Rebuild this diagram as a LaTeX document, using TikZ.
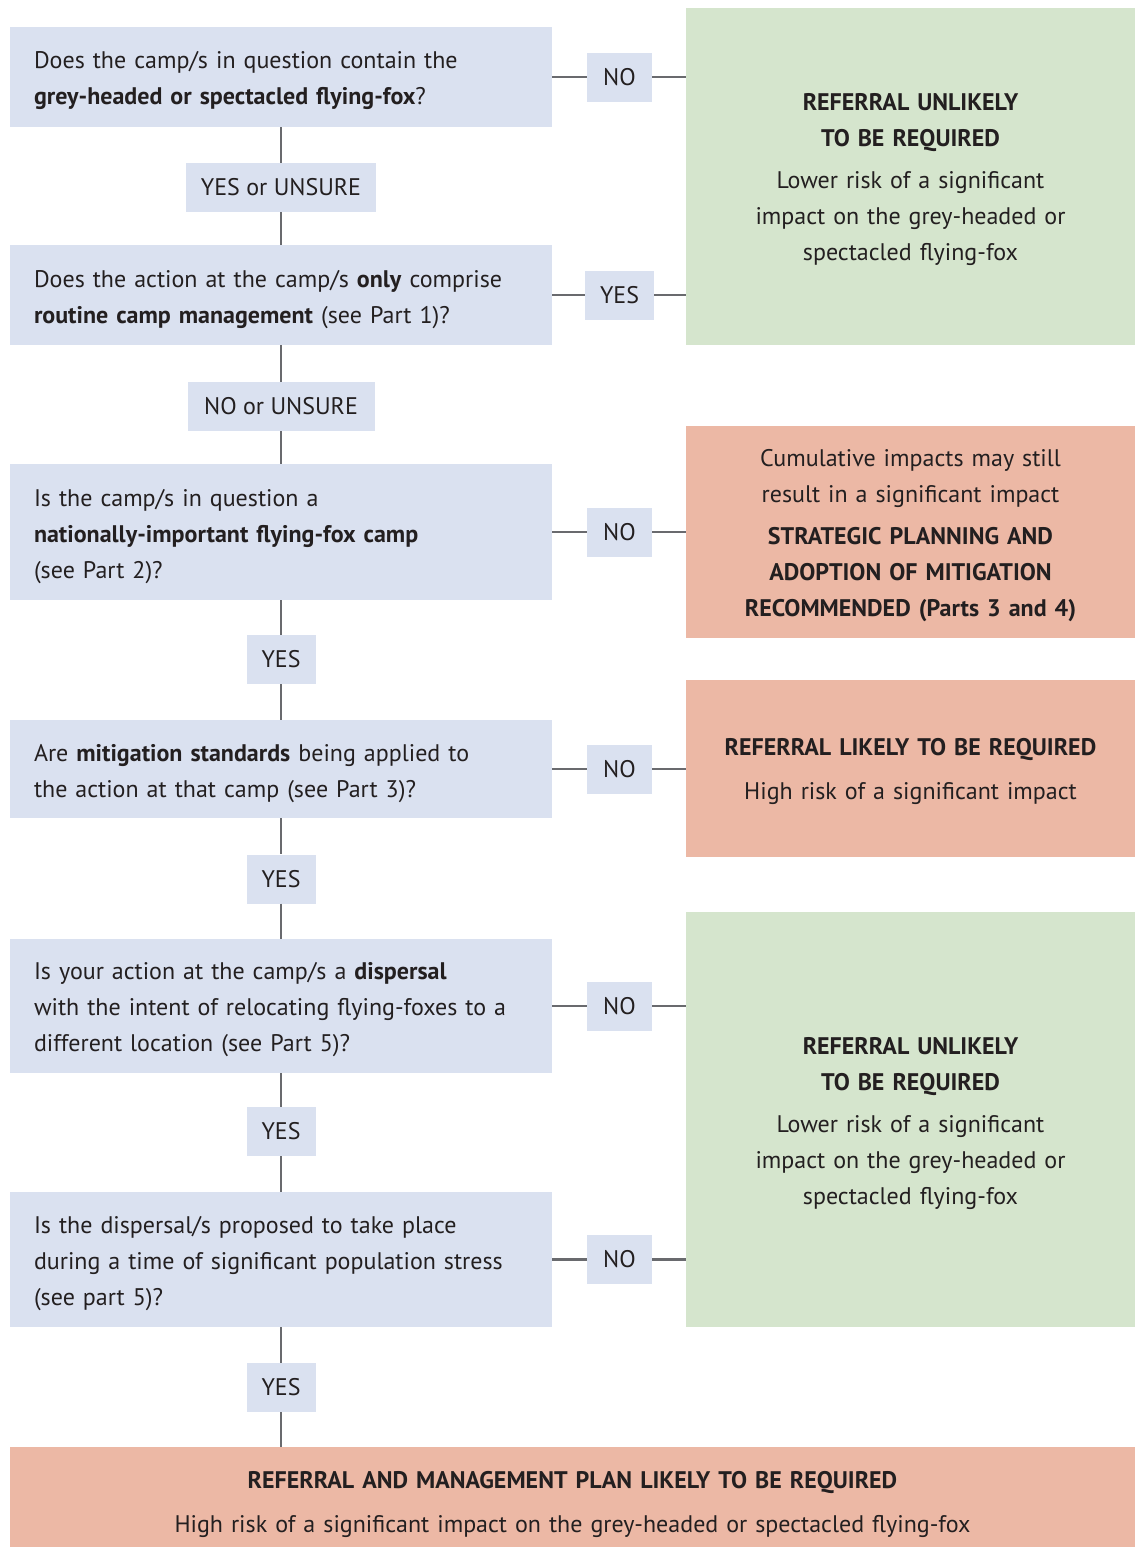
\documentclass[tikz,border=0pt]{standalone}
\usepackage{fontspec}
\setmainfont{PT Sans}
\definecolor{qblue}{RGB}{218,225,240}
\definecolor{gfill}{RGB}{213,229,205}
\definecolor{sfill}{RGB}{236,184,165}
\definecolor{txt}{RGB}{35,31,32}
\definecolor{lin}{RGB}{105,106,110}
\newcommand\lowr[1]{\rule{0pt}{#1pt}}
\begin{document}
\begin{tikzpicture}[x=1pt,y=-1pt,
  every node/.style={text=txt},
  body/.style={font=\fontsize{24}{36}\selectfont},
  qbox/.style={body, fill=qblue, text width=494pt, align=left, inner xsep=24pt, inner ysep=0pt, minimum width=542pt},
  lab/.style={body, fill=qblue, inner sep=0pt, minimum height=49pt},
  res/.style={body, text width=440pt, align=center, inner sep=0pt, minimum width=449pt},
  conn/.style={draw=lin, line width=2.5pt}]
\useasboundingbox (0,0) rectangle (1137,1547);
\fill[white] (0,0) rectangle (1137,1547);

% question boxes
\node[qbox, minimum height=100pt] (q1) at (281,77) {\lowr{24}Does the camp/s in question contain the\\\textbf{grey-headed or spectacled flying-fox}?};
\node[qbox, minimum height=100pt] (q2) at (281,295) {\lowr{27}Does the action at the camp/s \textbf{only} comprise\\\textbf{routine camp management} (see Part 1)?};
\node[qbox, minimum height=136pt] (q3) at (281,532) {\lowr{26}Is the camp/s in question a\\\textbf{nationally-important flying-fox camp}\\(see Part 2)?};
\node[qbox, minimum height=98pt] (q4) at (281,769) {\lowr{26}Are \textbf{mitigation standards} being applied to\\the action at that camp (see Part 3)?};
\node[qbox, minimum height=134pt] (q5) at (281,1006) {\lowr{25}Is your action at the camp/s a \textbf{dispersal}\\with the intent of relocating flying-foxes to a\\different location (see Part 5)?};
\node[qbox, minimum height=135pt] (q6) at (281,1259.5) {\lowr{26}Is the dispersal/s proposed to take place\\during a time of significant population stress\\(see part 5)?};

% result boxes
\node[res, fill=gfill, minimum height=337pt] (g1) at (910.5,176.5) {\lowr{24}\textbf{REFERRAL UNLIKELY}\\\textbf{TO BE REQUIRED}\\[6pt]Lower risk of a significant\\impact on the grey-headed or\\spectacled flying-fox};
\node[res, fill=sfill, minimum height=212pt] (s1) at (910.5,532) {\lowr{25}Cumulative impacts may still\\result in a significant impact\\[6pt]\textbf{STRATEGIC PLANNING AND}\\\textbf{ADOPTION OF MITIGATION}\\\textbf{RECOMMENDED (Parts 3 and 4)}};
\node[res, fill=sfill, minimum height=177pt] (s2) at (910.5,768.5) {\lowr{24}\textbf{REFERRAL LIKELY TO BE REQUIRED}\\[8pt]High risk of a significant impact};
\node[res, fill=gfill, minimum height=415pt] (g2) at (910.5,1119.5) {\lowr{26}\textbf{REFERRAL UNLIKELY}\\\textbf{TO BE REQUIRED}\\[6pt]Lower risk of a significant\\impact on the grey-headed or\\spectacled flying-fox};
\node[body, fill=sfill, text width=1100pt, align=center, inner sep=0pt, minimum width=1125pt, minimum height=100pt] (fin) at (572.5,1497) {\lowr{32}\textbf{REFERRAL AND MANAGEMENT PLAN LIKELY TO BE REQUIRED}\\[8pt]High risk of a significant impact on the grey-headed or spectacled flying-fox};

% side labels
\node[lab, minimum width=65pt] (n1) at (619.5,77) {NO};
\node[lab, minimum width=69pt] (y2) at (619.5,295) {YES};
\node[lab, minimum width=65pt] (n3) at (619.5,532) {NO};
\node[lab, minimum width=65pt] (n4) at (619.5,769) {NO};
\node[lab, minimum width=65pt] (n5) at (619.5,1006) {NO};
\node[lab, minimum width=65pt] (n6) at (619.5,1259.5) {NO};

% vertical labels
\node[lab, minimum width=190pt] (v1) at (281,187.5) {YES or UNSURE};
\node[lab, minimum width=187pt] (v2) at (281,406.5) {NO or UNSURE};
\node[lab, minimum width=69pt] (v3) at (281,659.5) {YES};
\node[lab, minimum width=69pt] (v4) at (281,879) {YES};
\node[lab, minimum width=69pt] (v5) at (281,1131.5) {YES};
\node[lab, minimum width=69pt] (v6) at (281,1387.5) {YES};

% horizontal connectors
\draw[conn] (q1.east) -- (n1.west); \draw[conn] (n1.east) -- (n1.east -| g1.west);
\draw[conn] (q2.east) -- (y2.west); \draw[conn] (y2.east) -- (y2.east -| g1.west);
\draw[conn] (q3.east) -- (n3.west); \draw[conn] (n3.east) -- (n3.east -| s1.west);
\draw[conn] (q4.east) -- (n4.west); \draw[conn] (n4.east) -- (n4.east -| s2.west);
\draw[conn] (q5.east) -- (n5.west); \draw[conn] (n5.east) -- (n5.east -| g2.west);
\draw[conn] (q6.east) -- (n6.west); \draw[conn] (n6.east) -- (n6.east -| g2.west);

% vertical connectors
\draw[conn] (q1.south) -- (v1.north); \draw[conn] (v1.south) -- (q2.north);
\draw[conn] (q2.south) -- (v2.north); \draw[conn] (v2.south) -- (q3.north);
\draw[conn] (q3.south) -- (v3.north); \draw[conn] (v3.south) -- (q4.north);
\draw[conn] (q4.south) -- (v4.north); \draw[conn] (v4.south) -- (q5.north);
\draw[conn] (q5.south) -- (v5.north); \draw[conn] (v5.south) -- (q6.north);
\draw[conn] (q6.south) -- (v6.north); \draw[conn] (v6.south) -- (v6.south |- fin.north);
\end{tikzpicture}
\end{document}
